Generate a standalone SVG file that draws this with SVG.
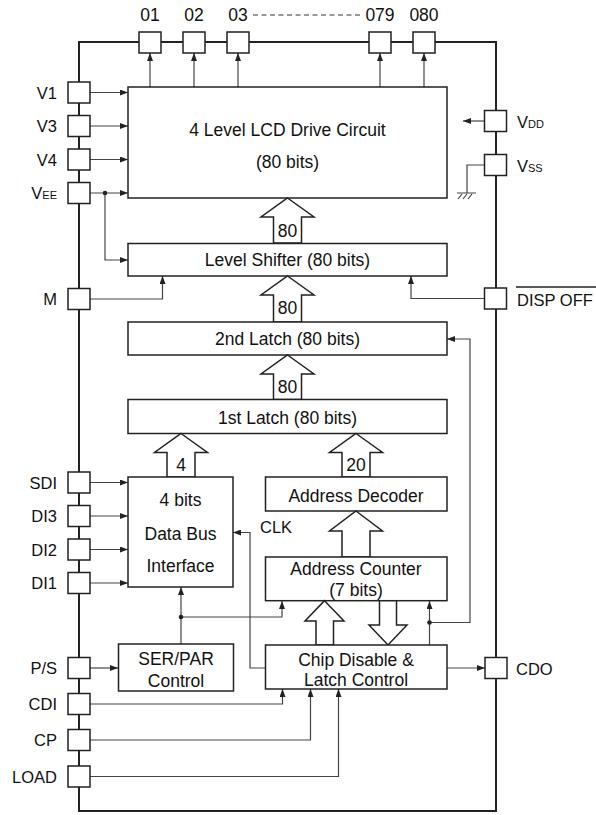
<svg xmlns="http://www.w3.org/2000/svg" width="596" height="815" viewBox="0 0 596 815">
<style>
text{font-family:"Liberation Sans",Arial,sans-serif;fill:#111}
.t{font-size:17.5px;text-anchor:middle}
.lbl{font-size:16.5px;text-anchor:end}
.lr{font-size:16.5px}
.sub{font-size:11px}
.box{fill:#fff;stroke:#222;stroke-width:1.5}
.pin{fill:#fff;stroke:#222;stroke-width:1.5}
.bus{fill:#fff;stroke:#222;stroke-width:1.5;stroke-linejoin:miter}
.c{fill:none;stroke:#444;stroke-width:1.2}
.ca{fill:none;stroke:#444;stroke-width:1.2;marker-end:url(#ah)}
</style>
<defs>
<marker id="ah" markerWidth="8" markerHeight="6" refX="8" refY="3" orient="auto" markerUnits="userSpaceOnUse">
<path d="M0,0 L8,3 L0,6 z" fill="#222"/>
</marker>
</defs>
<rect width="596" height="815" fill="#fff"/>
<g id="border">
<rect x="79" y="42" width="417" height="769" fill="none" stroke="#222" stroke-width="2"/>
</g>
<g id="connectors">
<path class="ca" d="M150,87 V53"/>
<path class="ca" d="M194,87 V53"/>
<path class="ca" d="M238,87 V53"/>
<path class="ca" d="M380,87 V53"/>
<path class="ca" d="M424,87 V53"/>
<path class="ca" d="M90,92.5 H128"/>
<path class="ca" d="M90,126 H128"/>
<path class="ca" d="M90,159.5 H128"/>
<path class="ca" d="M90,193 H128"/>
<path class="ca" d="M105,193 V260 H128"/>
<circle cx="105" cy="193" r="2.3" fill="#222"/>
<path class="ca" d="M90,299 H162.5 V276"/>
<path class="ca" d="M484,298.5 H411 V276"/>
<path class="ca" d="M484,121 H463"/>
<path class="c" d="M484,165 H467 V193"/>
<path class="c" d="M457,193 H476 M458,199 L462,194 M463,199 L467,194 M468,199 L472,194"/>
<path class="ca" d="M90,482.5 H128"/>
<path class="ca" d="M90,516 H128"/>
<path class="ca" d="M90,549.5 H128"/>
<path class="ca" d="M90,583 H128"/>
<path class="ca" d="M265.5,668 H250 V532.5 H233"/>
<path class="ca" d="M181,644 V587"/>
<path class="ca" d="M181,617 H282 V601"/>
<circle cx="181" cy="617" r="2.3" fill="#222"/>
<path class="ca" d="M90,668 H118"/>
<path class="ca" d="M90,704 H282.5 V689"/>
<path class="ca" d="M90,740 H310.5 V689"/>
<path class="ca" d="M90,776.5 H338.5 V689"/>
<path class="ca" d="M447,668 H485"/>
<path class="ca" d="M429.5,645 V601"/>
<path class="ca" d="M429.5,622.5 H470 V339 H447"/>
<circle cx="429.5" cy="622.5" r="2.3" fill="#222"/>
<line x1="253" y1="15" x2="360" y2="15" stroke="#333" stroke-width="1" stroke-dasharray="5,3.5"/>
</g>
<g id="pins-top">
<rect class="pin" x="139" y="32" width="22" height="21"/>
<rect class="pin" x="183" y="32" width="22" height="21"/>
<rect class="pin" x="227" y="32" width="22" height="21"/>
<rect class="pin" x="369" y="32" width="22" height="21"/>
<rect class="pin" x="413" y="32" width="22" height="21"/>
<text class="t" x="150" y="21" font-size="16.5">01</text>
<text class="t" x="194" y="21" font-size="16.5">02</text>
<text class="t" x="238" y="21" font-size="16.5">03</text>
<text class="t" x="380" y="21" font-size="16.5">079</text>
<text class="t" x="424" y="21" font-size="16.5">080</text>
</g>
<g id="pins-left">
<rect class="pin" x="68" y="82" width="22" height="21"/>
<rect class="pin" x="68" y="115.5" width="22" height="21"/>
<rect class="pin" x="68" y="149" width="22" height="21"/>
<rect class="pin" x="68" y="182.5" width="22" height="21"/>
<rect class="pin" x="68" y="288.5" width="22" height="21"/>
<rect class="pin" x="68" y="472" width="22" height="21"/>
<rect class="pin" x="68" y="505.5" width="22" height="21"/>
<rect class="pin" x="68" y="539" width="22" height="21"/>
<rect class="pin" x="68" y="572.5" width="22" height="21"/>
<rect class="pin" x="68" y="657.5" width="22" height="21"/>
<rect class="pin" x="68" y="693.5" width="22" height="21"/>
<rect class="pin" x="68" y="729.5" width="22" height="21"/>
<rect class="pin" x="68" y="766" width="22" height="21"/>
<text class="lbl" x="57" y="98.5">V1</text>
<text class="lbl" x="57" y="132">V3</text>
<text class="lbl" x="57" y="165.5">V4</text>
<text class="lbl" x="57" y="199">V<tspan class="sub">EE</tspan></text>
<text class="lbl" x="57" y="305">M</text>
<text class="lbl" x="57" y="488.5">SDI</text>
<text class="lbl" x="57" y="522">DI3</text>
<text class="lbl" x="57" y="555.5">DI2</text>
<text class="lbl" x="57" y="589">DI1</text>
<text class="lbl" x="57" y="674">P/S</text>
<text class="lbl" x="57" y="710">CDI</text>
<text class="lbl" x="57" y="746">CP</text>
<text class="lbl" x="57" y="782.5">LOAD</text>
</g>
<g id="pins-right">
<rect class="pin" x="484.5" y="110.5" width="22" height="21"/>
<rect class="pin" x="484.5" y="154.5" width="22" height="21"/>
<rect class="pin" x="484.5" y="288" width="22" height="21"/>
<rect class="pin" x="485" y="657.5" width="22" height="21"/>
<text class="lr" x="517" y="128">V<tspan class="sub">DD</tspan></text>
<text class="lr" x="517" y="172">V<tspan class="sub">SS</tspan></text>
<text class="lr" x="517" y="306">DISP OFF</text>
<line x1="516" y1="287" x2="596" y2="287" stroke="#222" stroke-width="1.3"/>
<text class="lr" x="516" y="675" font-size="17.5">CDO</text>
</g>
<g id="drive">
<rect class="box" x="128" y="87" width="319" height="111"/>
<text class="t" x="287.5" y="136">4 Level LCD Drive Circuit</text>
<text class="t" x="287.5" y="168">(80 bits)</text>
</g>
<g id="bus1"><polygon class="bus" points="287.5,198 314,217 301.5,217 301.5,243 273.5,243 273.5,217 261,217"/><text class="t" x="287.5" y="237">80</text></g>
<g id="levelshifter">
<rect class="box" x="128" y="243.5" width="319" height="32.5"/>
<text class="t" x="287.5" y="266">Level Shifter (80 bits)</text>
</g>
<g id="bus2"><polygon class="bus" points="287.5,276 314,295 301.5,295 301.5,322 273.5,322 273.5,295 261,295"/><text class="t" x="287.5" y="314">80</text></g>
<g id="latch2">
<rect class="box" x="128" y="322" width="319" height="33"/>
<text class="t" x="287.5" y="345">2nd Latch (80 bits)</text>
</g>
<g id="bus3"><polygon class="bus" points="287.5,355 314,374 301.5,374 301.5,399.5 273.5,399.5 273.5,374 261,374"/><text class="t" x="287.5" y="393">80</text></g>
<g id="latch1">
<rect class="box" x="128" y="399.5" width="319" height="34"/>
<text class="t" x="287.5" y="424">1st Latch (80 bits)</text>
</g>
<g id="bus4"><polygon class="bus" points="181,433.5 207.5,452.5 195,452.5 195,477 167,477 167,452.5 154.5,452.5"/><text class="t" x="181" y="471">4</text></g>
<g id="bus5"><polygon class="bus" points="356,433.5 382.5,452.5 370,452.5 370,477 342,477 342,452.5 329.5,452.5"/><text class="t" x="356" y="471">20</text></g>
<g id="databus">
<rect class="box" x="128" y="477" width="105" height="110"/>
<text class="t" x="180.5" y="506">4 bits</text>
<text class="t" x="180.5" y="540">Data Bus</text>
<text class="t" x="180.5" y="572">Interface</text>
</g>
<g id="decoder">
<rect class="box" x="265.5" y="477" width="181.5" height="34"/>
<text class="t" x="356" y="501.5">Address Decoder</text>
</g>
<text class="lr" x="260" y="533" font-size="17.5">CLK</text>
<g id="bus6"><polygon class="bus" points="356,511 382.5,531 370,531 370,557 342,557 342,531 329.5,531"/></g>
<g id="counter">
<rect class="box" x="265.5" y="557" width="181.5" height="43.7"/>
<text class="t" x="356" y="575">Address Counter</text>
<text class="t" x="356" y="596">(7 bits)</text>
</g>
<g id="bus7"><polygon class="bus" points="324.5,600.7 344,621 333.5,621 333.5,645 316,645 316,621 305,621"/></g>
<g id="bus8"><polygon class="bus" points="379.5,600.7 396.5,600.7 396.5,625 407,625 388,645 369,625 379.5,625"/></g>
<g id="serpar">
<rect class="box" x="118.5" y="644" width="115" height="47"/>
<text class="t" x="176" y="665">SER/PAR</text>
<text class="t" x="176" y="686.5">Control</text>
</g>
<g id="chipdisable">
<rect class="box" x="265.5" y="645" width="181.5" height="44"/>
<text class="t" x="356" y="665.5">Chip Disable &amp;</text>
<text class="t" x="356" y="686">Latch Control</text>
</g>
</svg>
